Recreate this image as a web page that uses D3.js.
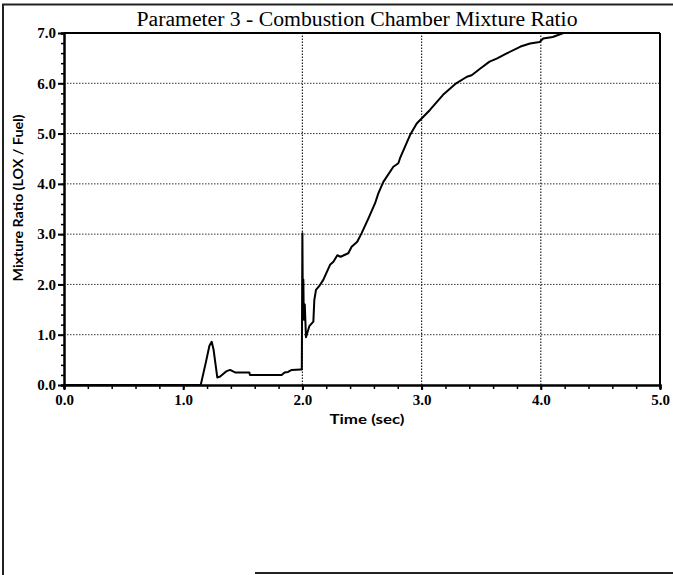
<!DOCTYPE html>
<html><head><meta charset="utf-8">
<script src="https://cdn.jsdelivr.net/npm/d3@7"></script>
<style>html,body{margin:0;padding:0;background:#fff;}</style>
</head><body>
<svg id="c" width="673" height="575"></svg>
<script>
const titleText = "Parameter 3 - Combustion Chamber Mixture Ratio";
const xTitle = "Time (sec)";
const yTitle = "Mixture Ratio (LOX / Fuel)";
const xTickValues = [0, 1, 2, 3, 4, 5];
const xTickLabels = ["0.0", "1.0", "2.0", "3.0", "4.0", "5.0"];
const yTickValues = [0, 1, 2, 3, 4, 5, 6, 7];
const yTickLabels = ["0.0", "1.0", "2.0", "3.0", "4.0", "5.0", "6.0", "7.0"];
const xGridValues = [2, 3, 4];
const yGridValues = [1, 2, 3, 4, 5, 6];

const time = [0.0, 1.147, 1.19, 1.22, 1.239, 1.255, 1.286, 1.31, 1.36, 1.393, 1.435, 1.555, 1.56, 1.826, 1.85, 1.88, 1.91, 1.986, 1.995,
  2.0, 2.004, 2.008, 2.012, 2.02, 2.03, 2.058, 2.092, 2.10, 2.114, 2.142, 2.175, 2.232, 2.26, 2.293, 2.32, 2.385, 2.413, 2.46, 2.497,
  2.553, 2.609, 2.637, 2.679, 2.763, 2.805, 2.819, 2.861, 2.903, 2.959, 3.0, 3.07, 3.18, 3.29, 3.38, 3.42, 3.49, 3.57, 3.63, 3.71,
  3.83, 3.91, 3.99, 4.02, 4.10, 4.19, 5.0];
const ratio = [0.0, 0.0, 0.45, 0.78, 0.86, 0.7, 0.15, 0.17, 0.27, 0.30, 0.25, 0.25, 0.2, 0.2, 0.25, 0.26, 0.3, 0.31, 0.31,
  3.02, 1.4, 2.1, 1.3, 1.6, 0.95, 1.17, 1.26, 1.69, 1.89, 1.97, 2.09, 2.39, 2.45, 2.58, 2.55, 2.62, 2.75, 2.85, 3.02,
  3.31, 3.61, 3.81, 4.04, 4.34, 4.41, 4.51, 4.74, 4.97, 5.20, 5.30, 5.47, 5.77, 6.00, 6.13, 6.16, 6.29, 6.43, 6.49, 6.59,
  6.73, 6.79, 6.82, 6.89, 6.92, 7.0, 7.0];

const svg = d3.select("#c");
const x = d3.scaleLinear().domain([0, 5]).range([64, 660]);
const y = d3.scaleLinear().domain([0, 7]).range([385, 33]);

// outer frame
svg.append("line").attr("x1", 2).attr("x2", 673).attr("y1", 4.5).attr("y2", 4.5).attr("stroke", "#222").attr("stroke-width", 2);
svg.append("line").attr("x1", 3).attr("x2", 3).attr("y1", 4).attr("y2", 575).attr("stroke", "#222").attr("stroke-width", 2);
svg.append("line").attr("x1", 255).attr("x2", 673).attr("y1", 573).attr("y2", 573).attr("stroke", "#222").attr("stroke-width", 2);

// grid
const g = svg.append("g");
g.selectAll(".hg").data(yGridValues).enter().append("line")
  .attr("x1", x(0)).attr("x2", x(5)).attr("y1", d => y(d)).attr("y2", d => y(d))
  .attr("stroke", "#333").attr("stroke-width", 1).attr("stroke-dasharray", "1.5,1.5");
g.selectAll(".vg").data(xGridValues).enter().append("line")
  .attr("x1", d => x(d)).attr("x2", d => x(d)).attr("y1", y(0)).attr("y2", y(7))
  .attr("stroke", "#222").attr("stroke-width", 1.2).attr("stroke-dasharray", "1.5,1.5");

// frame of plot (top/right)
svg.append("line").attr("x1", x(0)).attr("x2", x(5)).attr("y1", y(7)).attr("y2", y(7)).attr("stroke", "#000").attr("stroke-width", 2);
svg.append("line").attr("x1", x(5)).attr("x2", x(5)).attr("y1", y(7)).attr("y2", y(0)).attr("stroke", "#000").attr("stroke-width", 2);

// minor ticks
const xMinor = d3.range(0, 5.001, 0.2);
const yMinor = d3.range(0, 7.001, 0.2);
const xAxis = d3.axisBottom(x).tickValues(xMinor).tickSize(4).tickFormat("");
const yAxis = d3.axisLeft(y).tickValues(yMinor).tickSize(3).tickFormat("");
svg.append("g").attr("transform", `translate(0,${y(0)})`).call(xAxis)
  .call(s => s.select(".domain").attr("stroke-width", 2.5))
  .call(s => s.selectAll(".tick line").attr("stroke-width", 1.5));
svg.append("g").attr("transform", `translate(${x(0)},0)`).call(yAxis)
  .call(s => s.select(".domain").attr("stroke-width", 2.5))
  .call(s => s.selectAll(".tick line").attr("stroke-width", 1.5));

// major ticks with labels
const xMajor = d3.axisBottom(x).tickValues(xTickValues).tickSize(5).tickPadding(4)
  .tickFormat((d, i) => xTickLabels[i]);
const yMajor = d3.axisLeft(y).tickValues(yTickValues).tickSize(6).tickPadding(2)
  .tickFormat((d, i) => yTickLabels[i]);
svg.append("g").attr("transform", `translate(0,${y(0)})`).call(xMajor)
  .call(s => s.select(".domain").remove())
  .call(s => s.selectAll(".tick line").attr("stroke-width", 2))
  .call(s => s.selectAll("text").attr("font-family", "Liberation Serif").attr("font-weight", "bold").attr("font-size", 15).attr("fill", "#000"));
svg.append("g").attr("transform", `translate(${x(0)},0)`).call(yMajor)
  .call(s => s.select(".domain").remove())
  .call(s => s.selectAll(".tick line").attr("stroke-width", 2))
  .call(s => s.selectAll("text").attr("font-family", "Liberation Serif").attr("font-weight", "bold").attr("font-size", 15).attr("fill", "#000"));

// data line
const pts = time.map((t, i) => [t, ratio[i]]);
svg.append("path").datum(pts)
  .attr("d", d3.line().x(d => x(d[0])).y(d => y(d[1])))
  .attr("fill", "none").attr("stroke", "#000").attr("stroke-width", 2).attr("stroke-linejoin", "round");

// titles
svg.append("text").attr("x", 357).attr("y", 26).attr("text-anchor", "middle")
  .attr("font-family", "Liberation Serif").attr("font-size", 20)
  .attr("textLength", 441).attr("lengthAdjust", "spacingAndGlyphs").text(titleText);
svg.append("text").attr("x", 367).attr("y", 424).attr("text-anchor", "middle")
  .attr("font-family", "Lato").attr("font-weight", "bold").attr("font-size", 14)
  .attr("textLength", 75).attr("lengthAdjust", "spacingAndGlyphs").text(xTitle);
svg.append("text").attr("transform", "translate(23,198) rotate(-90)").attr("text-anchor", "middle")
  .attr("font-family", "Lato").attr("font-weight", "bold").attr("font-size", 14)
  .attr("textLength", 167).attr("lengthAdjust", "spacingAndGlyphs").text(yTitle);
</script>
</body></html>
